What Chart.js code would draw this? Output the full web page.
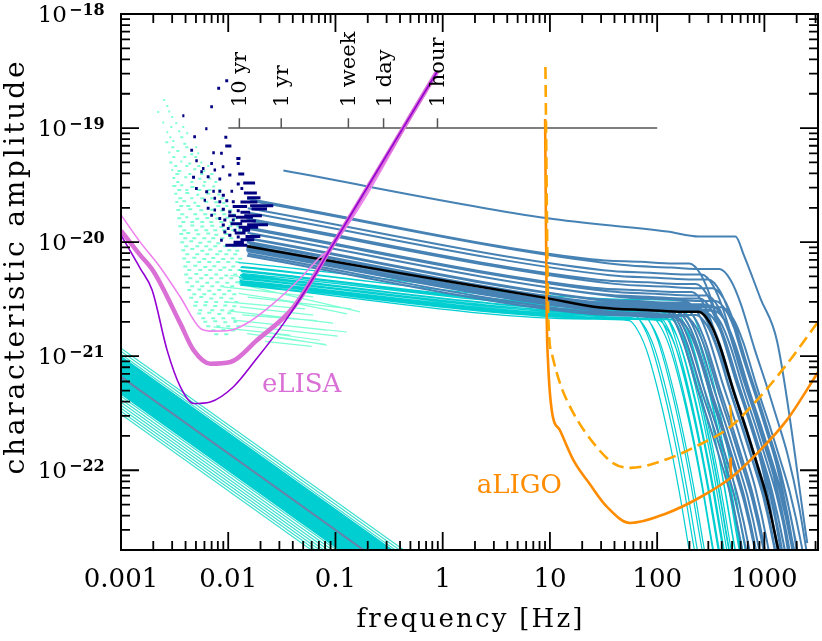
<!DOCTYPE html>
<html>
<head>
<meta charset="utf-8">
<title>characteristic amplitude</title>
<script src="https://cdn.jsdelivr.net/npm/chart.js@4.4.1/dist/chart.umd.min.js"></script>
<style>
  html, body { margin: 0; padding: 0; background: #fff; }
  canvas { display: block; }
</style>
</head>
<body>
<canvas id="chart" width="822" height="641"></canvas>
<script>
// ---- axes ----
const xMin = 0.001, xMax = 3162;
const yMin = 2e-23, yMax = 1e-18;
const xTickValues = [0.001, 0.01, 0.1, 1, 10, 100, 1000];
const xTickLabels = ['0.001', '0.01', '0.1', '1', '10', '100', '1000'];
const yTickExponents = [-18, -19, -20, -21, -22];

// ---- time-to-merger scale ----
const timeLabels = ['10 yr', '1 yr', '1 week', '1 day', '1 hour'];
const timeTickF = [0.0127, 0.0312, 0.132, 0.281, 0.894];
const timeLineF = [0.01, 100];
const timeLineH = 1e-19;
const timeTickTopH = 1.22e-19;

// ---- eLISA sensitivity curves ----
const elisaDarkF = [0.001, 0.00151, 0.00195, 0.00269, 0.00357, 0.00475, 0.0068, 0.0112, 0.0179, 0.0328, 0.0625, 0.09, 0.883];
const elisaDarkH = [1.15e-20, 5.9e-21, 3.8e-21, 1.13e-21, 5.4e-22, 3.85e-22, 3.97e-22, 5.4e-22, 9.2e-22, 1.94e-21, 4.9e-21, 8.8e-21, 3.1e-19];
const elisaThickF = [0.001, 0.00151, 0.00202, 0.00357, 0.00475, 0.0068, 0.0105, 0.0185, 0.0407, 0.09, 0.883];
const elisaThickH = [1.26e-20, 7.7e-21, 5.5e-21, 1.94e-21, 1.13e-21, 8.6e-22, 8.9e-22, 1.38e-21, 2.7e-21, 8.8e-21, 3.1e-19];
const elisaLightF = [0.001, 0.00151, 0.00224, 0.00357, 0.00549, 0.0068, 0.0105, 0.0161, 0.0264, 0.0468, 0.0719, 0.09, 0.883];
const elisaLightH = [1.73e-20, 1.0e-20, 6.3e-21, 3.3e-21, 1.75e-21, 1.66e-21, 1.69e-21, 2.03e-21, 2.9e-21, 4.8e-21, 7.4e-21, 8.8e-21, 3.1e-19];

// ---- aLIGO sensitivity curves ----
const ligoSolidF = [9.02, 9.35, 9.6, 10.4, 12.4, 16.6, 23.7, 33.9, 56, 123, 252, 480, 850, 1618, 3184];
const ligoSolidH = [1.2e-19, 2.07e-21, 9.0e-22, 3.36e-22, 2.24e-22, 1.22e-22, 7.5e-23, 4.8e-23, 3.45e-23, 4.2e-23, 5.8e-23, 8.5e-23, 1.4e-22, 2.75e-22, 7.3e-22];
const ligoDashF = [9.08, 9.68, 10.4, 12.4, 16.6, 25.5, 39.1, 56, 123, 252, 480, 850, 1618, 3162];
const ligoDashH = [3.43e-19, 2.07e-21, 1.06e-21, 5.8e-22, 3.16e-22, 1.73e-22, 1.15e-22, 1.05e-22, 1.25e-22, 1.69e-22, 2.4e-22, 4.1e-22, 8.5e-22, 2.0e-21];
const ligoSpikeDashF = [479, 497];
const ligoSpikeDashH = [3.72e-22, 2.5e-22];
const ligoSpikeSolidF = [479, 488];
const ligoSpikeSolidH = [1.27e-22, 8.6e-23];

// ---- highlighted (black) track ----
const blackF = [0.015, 0.40, 9.4, 29.4, 86, 175, 243, 312, 386, 514, 685, 849, 1052, 1349];
const blackH = [9.2e-21, 5.35e-21, 3.23e-21, 2.67e-21, 2.53e-21, 2.45e-21, 2.45e-21, 1.94e-21, 1.21e-21, 5.0e-22, 2.2e-22, 1.15e-22, 5.8e-23, 2.0e-23];

// ---- loudest steel-blue track ----
const topTrackF = [0.0327, 9.5, 124, 246, 537, 643, 920, 1318, 2512];
const topTrackH = [4.24e-20, 1.62e-20, 1.24e-20, 1.12e-20, 1.12e-20, 7.7e-21, 3.2e-21, 1.33e-21, 2.3e-23];

// ---- steel-blue tracks: start and knee ----
const steelStartF = [0.0150, 0.0160, 0.0152, 0.0155, 0.0148, 0.0158, 0.0147, 0.0154, 0.0151, 0.0159, 0.0146, 0.0153, 0.0157, 0.0149,
                     0.0161, 0.0150, 0.0146, 0.0155, 0.0148, 0.0158, 0.0147, 0.0154, 0.0149, 0.0150, 0.0152, 0.0149, 0.0152, 0.0150];
const steelStartH = [2.40e-20, 2.30e-20, 1.98e-20, 1.81e-20, 1.61e-20, 1.54e-20, 1.35e-20, 1.30e-20, 1.21e-20, 1.19e-20, 1.08e-20, 1.08e-20, 1.08e-20, 1.01e-20,
                     1.07e-20, 9.9e-21, 9.4e-21, 9.8e-21, 9.0e-21, 9.7e-21, 8.6e-21, 9.3e-21, 8.5e-21, 8.7e-21, 8.9e-21, 8.3e-21, 7.9e-21, 7.6e-21];
const steelKneeF = [200, 380, 260, 300, 230, 330, 210, 290, 250, 350, 190, 270, 320, 220,
                    400, 240, 180, 300, 160, 340, 150, 280, 130, 120, 110, 230, 180, 150];
const steelKneeH = [6.5e-21, 5.8e-21, 5.2e-21, 4.7e-21, 4.3e-21, 3.95e-21, 3.65e-21, 3.4e-21, 3.2e-21, 3.05e-21, 2.95e-21, 2.85e-21, 2.78e-21, 2.72e-21,
                    2.68e-21, 2.64e-21, 2.6e-21, 2.56e-21, 2.53e-21, 2.5e-21, 2.47e-21, 2.44e-21, 2.5e-21, 2.6e-21, 2.7e-21, 2.3e-21, 2.25e-21, 2.2e-21];
// shape around the knee (ratio to knee)
const steelShapeF = [0.121, 0.354, 0.72, 1, 1.284, 1.588, 2.115, 2.819, 3.494, 4.329, 5.551, 7.0];
const steelShapeH = [1.09, 1.033, 1.0, 1, 0.792, 0.494, 0.204, 0.0898, 0.0469, 0.0237, 0.0082, 0.0022];

// ---- turquoise tracks ----
const cyanStartF = [0.0125, 0.0130, 0.0132, 0.0135, 0.0131, 0.0134, 0.0130, 0.0133, 0.0131, 0.0128, 0.0130,
                    0.0127, 0.0132, 0.0129, 0.0126, 0.0133, 0.0131, 0.0127, 0.0130, 0.0129, 0.0126, 0.0127];
const cyanStartH = [6.6e-21, 6.0e-21, 5.6e-21, 5.3e-21, 5.0e-21, 4.8e-21, 4.6e-21, 4.4e-21, 4.25e-21, 4.6e-21, 5.2e-21,
                    4.4e-21, 4.9e-21, 4.2e-21, 5.7e-21, 6.1e-21, 5.5e-21, 4.75e-21, 4.35e-21, 5.1e-21, 4.9e-21, 4.5e-21];
const cyanKneeF = [170, 160, 140, 155, 125, 145, 115, 135, 105, 75, 70, 65, 60, 55, 88, 98, 118, 128, 165, 110, 100, 90];
const cyanKneeH = [3.05e-21, 2.8e-21, 2.65e-21, 2.5e-21, 2.4e-21, 2.3e-21, 2.2e-21, 2.1e-21, 2.05e-21, 2.25e-21, 2.5e-21,
                   2.15e-21, 2.35e-21, 2.05e-21, 2.7e-21, 2.9e-21, 2.6e-21, 2.25e-21, 2.05e-21, 2.45e-21, 2.35e-21, 2.2e-21];
const cyanShapeF = [0.4, 1, 1.2, 1.45, 1.8, 2.3, 2.9, 3.6, 4.5];
const cyanShapeH = [1.03, 1, 0.82, 0.55, 0.27, 0.1, 0.033, 0.01, 0.003];

// ---- short aquamarine tracks [f1, h1, f2, h2] ----
const aquaLines = [
  [0.0105, 5.1e-21, 0.11, 4.06e-21], [0.0090, 4.06e-21, 0.062, 3.31e-21], [0.0125, 3.55e-21, 0.041, 3.0e-21],
  [0.0129, 2.71e-21, 0.062, 2.29e-21], [0.0160, 2.0e-21, 0.083, 1.69e-21], [0.0199, 1.63e-21, 0.072, 1.38e-21],
  [0.0285, 1.48e-21, 0.083, 1.25e-21], [0.0112, 2.07e-21, 0.128, 1.63e-21], [0.0150, 1.58e-21, 0.080, 1.27e-21],
  [0.0073, 1.81e-21, 0.038, 1.53e-21], [0.0125, 4.3e-21, 0.17, 2.45e-21], [0.0152, 3.3e-21, 0.14, 2.6e-21],
  [0.0305, 3.1e-21, 0.128, 2.35e-21], [0.0135, 2.3e-21, 0.067, 2.05e-21], [0.0100, 2.5e-21, 0.095, 1.95e-21],
  [0.0140, 1.85e-21, 0.105, 1.5e-21], [0.0095, 3.0e-21, 0.052, 2.6e-21], [0.0220, 1.35e-21, 0.060, 1.22e-21]
];

// ---- aquamarine specks [f1, f2, h] ----
const aquaDashes = [
  [0.00248, 0.00259, 1.76e-19], [0.00218, 0.00227, 1.38e-19], [0.00276, 0.00288, 1.4e-19],
  [0.00243, 0.00253, 1.12e-19], [0.00321, 0.00335, 1.1e-19],
  [0.00265, 0.00276, 9.2e-20], [0.00342, 0.00357, 9.4e-20], [0.00406, 0.00424, 9.0e-20],
  [0.00259, 0.00276, 7.5e-20], [0.00301, 0.00314, 7.7e-20], [0.00381, 0.00406, 7.3e-20],
  [0.00276, 0.00288, 6.1e-20], [0.00328, 0.00350, 6.3e-20], [0.00443, 0.00472, 5.9e-20], [0.00515, 0.00537, 6.0e-20],
  [0.00282, 0.00301, 5.0e-20], [0.00357, 0.00373, 5.1e-20], [0.00424, 0.00452, 4.9e-20], [0.00549, 0.00573, 5.0e-20],
  [0.00294, 0.00307, 4.3e-20], [0.00335, 0.00365, 4.2e-20], [0.00472, 0.00504, 4.35e-20], [0.00585, 0.00611, 4.2e-20],
  [0.00301, 0.00321, 3.65e-20], [0.00389, 0.00415, 3.7e-20], [0.00526, 0.00561, 3.6e-20], [0.00652, 0.00695, 3.62e-20],
  [0.00301, 0.00328, 3.1e-20], [0.00357, 0.00381, 3.15e-20], [0.00443, 0.00483, 3.05e-20], [0.00573, 0.00611, 3.12e-20], [0.0071, 0.00757, 3.08e-20],
  [0.00314, 0.00335, 2.65e-20], [0.00398, 0.00433, 2.7e-20], [0.00504, 0.00537, 2.6e-20], [0.00624, 0.0068, 2.66e-20], [0.0079, 0.00843, 2.62e-20],
  [0.00321, 0.00342, 2.25e-20], [0.00373, 0.00406, 2.28e-20], [0.00472, 0.00504, 2.22e-20], [0.00598, 0.00652, 2.26e-20], [0.00741, 0.00808, 2.24e-20], [0.0088, 0.00939, 2.2e-20],
  [0.00328, 0.00357, 1.91e-20], [0.00424, 0.00462, 1.94e-20], [0.00537, 0.00585, 1.9e-20], [0.0068, 0.00741, 1.92e-20], [0.00843, 0.00919, 1.88e-20], [0.01001, 0.01091, 1.9e-20],
  [0.00335, 0.00365, 1.62e-20], [0.00398, 0.00424, 1.65e-20], [0.00493, 0.00537, 1.6e-20], [0.00611, 0.00666, 1.63e-20], [0.00757, 0.00825, 1.61e-20], [0.00939, 0.01023, 1.64e-20], [0.01115, 0.01214, 1.6e-20],
  [0.00342, 0.00373, 1.38e-20], [0.00443, 0.00483, 1.4e-20], [0.00549, 0.00598, 1.37e-20], [0.0068, 0.00741, 1.39e-20], [0.00825, 0.00899, 1.36e-20], [0.01001, 0.01091, 1.38e-20], [0.01189, 0.01268, 1.37e-20],
  [0.0035, 0.00381, 1.18e-20], [0.00406, 0.00443, 1.2e-20], [0.00504, 0.00549, 1.17e-20], [0.00624, 0.0068, 1.19e-20], [0.00741, 0.00808, 1.16e-20], [0.00919, 0.01001, 1.18e-20],
  [0.00357, 0.00389, 1.0e-20], [0.00433, 0.00472, 1.02e-20], [0.00526, 0.00573, 9.9e-21], [0.00638, 0.00695, 1.01e-20], [0.00774, 0.00843, 9.8e-21],
  [0.00365, 0.00398, 8.5e-21], [0.00443, 0.00483, 8.7e-21], [0.00549, 0.00598, 8.4e-21], [0.00652, 0.0071, 8.6e-21], [0.00808, 0.0088, 8.3e-21], [0.0098, 0.01068, 8.5e-21], [0.01163, 0.01268, 8.4e-21],
  [0.00373, 0.00406, 7.2e-21], [0.00462, 0.00504, 7.3e-21], [0.00573, 0.00624, 7.1e-21], [0.00695, 0.00757, 7.25e-21], [0.00861, 0.00939, 7.1e-21], [0.01045, 0.01139, 7.2e-21], [0.01241, 0.01352, 7.15e-21],
  [0.00381, 0.00415, 6.1e-21], [0.00472, 0.00515, 6.2e-21], [0.00585, 0.00638, 6.05e-21], [0.0071, 0.00774, 6.15e-21], [0.0088, 0.00959, 6.0e-21], [0.01068, 0.01163, 6.1e-21],
  [0.00389, 0.00424, 5.2e-21], [0.00483, 0.00526, 5.25e-21], [0.00598, 0.00652, 5.15e-21], [0.00741, 0.00808, 5.2e-21], [0.00919, 0.01001, 5.1e-21], [0.01115, 0.01214, 5.2e-21],
  [0.00398, 0.00433, 4.45e-21], [0.00493, 0.00537, 4.5e-21], [0.00611, 0.00666, 4.4e-21], [0.00757, 0.00825, 4.45e-21], [0.00939, 0.01023, 4.4e-21], [0.01163, 0.01268, 4.45e-21],
  [0.00415, 0.00452, 3.8e-21], [0.00515, 0.00561, 3.85e-21], [0.00638, 0.00695, 3.75e-21], [0.0079, 0.00861, 3.8e-21], [0.0098, 0.01068, 3.75e-21],
  [0.00433, 0.00472, 3.25e-21], [0.00537, 0.00585, 3.3e-21], [0.00666, 0.00725, 3.2e-21], [0.00825, 0.00899, 3.25e-21], [0.01023, 0.01115, 3.2e-21],
  [0.00472, 0.00515, 2.77e-21], [0.00585, 0.00638, 2.8e-21], [0.00725, 0.0079, 2.75e-21], [0.00899, 0.0098, 2.78e-21], [0.01091, 0.01189, 2.74e-21],
  [0.00515, 0.00561, 2.37e-21], [0.00638, 0.00695, 2.4e-21], [0.0079, 0.00861, 2.35e-21], [0.0098, 0.01068, 2.38e-21],
  [0.00585, 0.00638, 2.0e-21], [0.00725, 0.0079, 2.02e-21], [0.00899, 0.0098, 1.98e-21], [0.01115, 0.01214, 2.0e-21],
  [0.00695, 0.00757, 1.69e-21], [0.00861, 0.00939, 1.7e-21], [0.01068, 0.01163, 1.68e-21],
  // in-between rows
  [0.002645, 0.002761, 1.56e-19], [0.002944, 0.003073, 1.25e-19],
  [0.002882, 0.003008, 1.02e-19], [0.003728, 0.003892, 1.02e-19],
  [0.002821, 0.002944, 8.3e-20], [0.003571, 0.003809, 8.3e-20],
  [0.002944, 0.00314, 6.8e-20], [0.003976, 0.004241, 6.8e-20], [0.004929, 0.005146, 6.8e-20],
  [0.003008, 0.003208, 5.57e-20], [0.003809, 0.004063, 5.57e-20], [0.004825, 0.005146, 5.57e-20],
  [0.00314, 0.003349, 4.65e-20], [0.003976, 0.004241, 4.65e-20], [0.005146, 0.005488, 4.65e-20], [0.006377, 0.006657, 4.65e-20],
  [0.003208, 0.003495, 3.95e-20], [0.004241, 0.004524, 3.95e-20], [0.005488, 0.005853, 3.95e-20], [0.006801, 0.007254, 3.95e-20],
  [0.003278, 0.003495, 3.36e-20], [0.004428, 0.004722, 3.36e-20], [0.005853, 0.006242, 3.36e-20], [0.007411, 0.007904, 3.36e-20],
  [0.003349, 0.003649, 2.86e-20], [0.003976, 0.004241, 2.86e-20], [0.005146, 0.005607, 2.86e-20], [0.006377, 0.006949, 2.86e-20], [0.008075, 0.008612, 2.86e-20],
  [0.003421, 0.003728, 2.43e-20], [0.004428, 0.004722, 2.43e-20], [0.005488, 0.00598, 2.43e-20], [0.006801, 0.007411, 2.43e-20], [0.00843, 0.009186, 2.43e-20],
  [0.003495, 0.003809, 2.07e-20], [0.004063, 0.004428, 2.07e-20], [0.005037, 0.005488, 2.07e-20], [0.007736, 0.00843, 2.07e-20], [0.009385, 0.01001, 2.07e-20],
  [0.003571, 0.003892, 1.76e-20], [0.004722, 0.005146, 1.76e-20], [0.005853, 0.006377, 1.76e-20], [0.0071, 0.007736, 1.76e-20], [0.008799, 0.009589, 1.76e-20], [0.01091, 0.01163, 1.76e-20],
  [0.003649, 0.003976, 1.5e-20], [0.004428, 0.004825, 1.5e-20], [0.005488, 0.00598, 1.5e-20], [0.006657, 0.007254, 1.5e-20], [0.00825, 0.00899, 1.5e-20], [0.01023, 0.01115, 1.5e-20],
  [0.003728, 0.004063, 1.27e-20], [0.004825, 0.005257, 1.27e-20], [0.00598, 0.006516, 1.27e-20], [0.007254, 0.007904, 1.27e-20], [0.008799, 0.009589, 1.27e-20], [0.01068, 0.01163, 1.27e-20], [0.01241, 0.01323, 1.27e-20],
  [0.003809, 0.004151, 1.08e-20], [0.004622, 0.005037, 1.08e-20], [0.005728, 0.006242, 1.08e-20], [0.006949, 0.007572, 1.08e-20], [0.00843, 0.009186, 1.08e-20], [0.01023, 0.01115, 1.08e-20],
  [0.003892, 0.004241, 9.2e-21], [0.004929, 0.005371, 9.2e-21], [0.00598, 0.006516, 9.2e-21], [0.007254, 0.007904, 9.2e-21], [0.00899, 0.009797, 9.2e-21], [0.01091, 0.01189, 9.2e-21],
  [0.003976, 0.004333, 7.85e-21], [0.004929, 0.005371, 7.85e-21], [0.006109, 0.006657, 7.85e-21], [0.007572, 0.00825, 7.85e-21], [0.009186, 0.01001, 7.85e-21], [0.01115, 0.01214, 7.85e-21],
  [0.004063, 0.004428, 6.7e-21], [0.005146, 0.005607, 6.7e-21], [0.006377, 0.006949, 6.7e-21], [0.007736, 0.00843, 6.7e-21], [0.009589, 0.01045, 6.7e-21], [0.01163, 0.01268, 6.7e-21],
  [0.004151, 0.004524, 5.7e-21], [0.005257, 0.005728, 5.7e-21], [0.006516, 0.0071, 5.7e-21], [0.008075, 0.008799, 5.7e-21], [0.01001, 0.01091, 5.7e-21], [0.01214, 0.01323, 5.7e-21],
  [0.004241, 0.004622, 4.83e-21], [0.005371, 0.005853, 4.83e-21], [0.006657, 0.007254, 4.83e-21], [0.00825, 0.00899, 4.83e-21], [0.01023, 0.01115, 4.83e-21],
  [0.004428, 0.004825, 4.11e-21], [0.005488, 0.00598, 4.11e-21], [0.006801, 0.007411, 4.11e-21], [0.00843, 0.009186, 4.11e-21], [0.01045, 0.01139, 4.11e-21],
  [0.004622, 0.005037, 3.5e-21], [0.005728, 0.006242, 3.5e-21], [0.0071, 0.007736, 3.5e-21], [0.008799, 0.009589, 3.5e-21], [0.01091, 0.01189, 3.5e-21],
  [0.004825, 0.005257, 2.98e-21], [0.00598, 0.006516, 2.98e-21], [0.007411, 0.008075, 2.98e-21], [0.009186, 0.01001, 2.98e-21], [0.01139, 0.01241, 2.98e-21],
  [0.005257, 0.005728, 2.53e-21], [0.006801, 0.007411, 2.53e-21], [0.00843, 0.009186, 2.53e-21], [0.01045, 0.01139, 2.53e-21],
  [0.005607, 0.006109, 2.15e-21], [0.006949, 0.007572, 2.15e-21], [0.008612, 0.009385, 2.15e-21], [0.01068, 0.01163, 2.15e-21],
  [0.006242, 0.006801, 1.83e-21], [0.007736, 0.00843, 1.83e-21], [0.009589, 0.01045, 1.83e-21], [0.01189, 0.01295, 1.83e-21],
  [0.007411, 0.008075, 1.56e-21], [0.009186, 0.01001, 1.56e-21]
];

// ---- navy specks [f1, f2, h] ----
const navyDashes = [
  [0.00938, 0.00999, 2.6e-19], [0.0079, 0.0084, 2.23e-19], [0.0068, 0.0072, 1.54e-19], [0.00373, 0.0039, 1.28e-19],
  [0.0061, 0.0064, 9.86e-20], [0.00472, 0.0050, 8.4e-20], [0.0092, 0.0098, 8.3e-20], [0.00938, 0.0107, 6.95e-20],
  [0.0084, 0.0089, 6.0e-20], [0.00443, 0.0047, 6.4e-20], [0.0071, 0.0075, 6.07e-20], [0.0119, 0.0130, 5.4e-20],
  [0.00493, 0.0052, 5.16e-20], [0.0068, 0.0072, 4.9e-20], [0.0120, 0.0128, 4.9e-20], [0.0087, 0.0092, 4.58e-20],
  [0.0057, 0.0060, 4.43e-20], [0.0073, 0.0077, 4.28e-20], [0.0100, 0.0107, 3.87e-20], [0.0124, 0.0141, 3.95e-20],
  [0.00549, 0.0058, 4.14e-20], [0.0046, 0.0049, 3.7e-20], [0.0063, 0.0067, 3.74e-20], [0.0081, 0.0086, 3.57e-20],
  [0.0120, 0.0128, 3.23e-20], [0.0138, 0.0178, 3.3e-20], [0.0049, 0.0052, 2.96e-20], [0.0061, 0.0065, 2.76e-20],
  [0.0071, 0.0075, 2.8e-20], [0.0081, 0.0086, 2.8e-20], [0.0105, 0.0111, 2.8e-20], [0.0130, 0.0138, 2.96e-20],
  [0.0087, 0.0093, 2.58e-20], [0.0073, 0.0077, 2.42e-20], [0.0059, 0.0062, 2.33e-20], [0.0081, 0.0086, 2.26e-20],
  [0.0094, 0.0100, 2.3e-20], [0.0108, 0.0115, 2.26e-20], [0.0130, 0.0187, 2.25e-20], [0.0160, 0.0263, 2.08e-20],
  [0.0063, 0.0067, 1.98e-20], [0.0073, 0.0077, 1.91e-20], [0.0087, 0.0093, 1.94e-20], [0.0100, 0.0107, 1.84e-20],
  [0.0120, 0.0128, 1.88e-20], [0.0130, 0.0160, 1.83e-20], [0.0068, 0.0072, 1.72e-20], [0.0081, 0.0086, 1.61e-20],
  [0.0090, 0.0096, 1.56e-20], [0.0108, 0.0115, 1.56e-20], [0.0130, 0.0181, 1.53e-20], [0.0087, 0.0093, 1.41e-20],
  [0.0097, 0.0103, 1.32e-20], [0.0112, 0.0119, 1.27e-20], [0.0135, 0.0160, 1.27e-20], [0.0090, 0.0096, 1.23e-20],
  [0.0100, 0.0107, 1.15e-20], [0.0120, 0.0128, 1.11e-20], [0.0094, 0.0150, 9.4e-21], [0.0084, 0.0089, 1.04e-20],
  [0.0141, 0.0206, 1.7e-20], [0.0150, 0.0235, 1.42e-20], [0.0145, 0.0199, 1.12e-20],
  [0.0110, 0.0150, 2.05e-20], [0.0118, 0.0170, 1.65e-20], [0.0105, 0.0135, 1.45e-20], [0.0125, 0.0190, 1.35e-20],
  [0.0115, 0.0145, 1.2e-20], [0.0130, 0.0175, 1.05e-20], [0.0112, 0.0140, 1.0e-20], [0.0150, 0.0200, 2.45e-20],
  [0.0165, 0.0230, 1.95e-20], [0.0140, 0.0185, 2.7e-20], [0.0100, 0.0118, 1.7e-20]
];

// ---- background band (lower left) ----
const bandStartF = 0.001;
const bandEndH = 2e-23;
const bandOuterStartH = [1.175e-21, 1.106e-21, 1.042e-21, 4.46e-22, 4.20e-22, 3.95e-22, 3.72e-22, 3.50e-22, 3.29e-22, 3.10e-22];
const bandOuterEndF = [0.4335, 0.396, 0.362, 0.1024, 0.0936, 0.0855, 0.0781, 0.0714, 0.0653, 0.0596];
const bandInnerStartH = [9.80e-22, 9.23e-22, 8.69e-22, 8.17e-22, 7.69e-22, 7.24e-22, 6.81e-22, 6.41e-22, 6.03e-22, 5.68e-22, 5.35e-22, 5.03e-22, 4.74e-22];
const bandInnerEndF = [0.331, 0.302, 0.276, 0.252, 0.231, 0.211, 0.193, 0.176, 0.161, 0.147, 0.134, 0.1227, 0.1121];
const bandCenterF = [0.001, 0.183];
const bandCenterH = [6.6e-22, 2e-23];

// ---- helpers ----
function pts(fs, hs) {
  return fs.map((f, i) => ({ x: f, y: hs[i] }));
}
function track(f0, h0, kf, kh, shapeF, shapeH) {
  const out = [{ x: f0, y: h0 }];
  shapeF.forEach((r, i) => out.push({ x: kf * r, y: kh * shapeH[i] }));
  return out;
}
function joined(lines) {
  const out = [];
  lines.forEach((l, i) => {
    if (i) out.push({ x: l[0].x, y: null });
    out.push(...l);
  });
  return out;
}
function lineDs(data, color, width, order, extra) {
  return Object.assign({
    data, borderColor: color, borderWidth: width, order,
    pointRadius: 0, fill: false, clip: 0, spanGaps: false,
    borderJoinStyle: 'round', borderCapStyle: 'butt'
  }, extra || {});
}
const smooth = { cubicInterpolationMode: 'monotone' };

const steelLines = steelKneeF.map((kf, i) => track(steelStartF[i], steelStartH[i], kf, steelKneeH[i], steelShapeF, steelShapeH));
const cyanLines = cyanKneeF.map((kf, i) => track(cyanStartF[i], cyanStartH[i], kf, cyanKneeH[i], cyanShapeF, cyanShapeH));
const aquaLineSegs = aquaLines.map(a => [{ x: a[0], y: a[1] }, { x: a[2], y: a[3] }]);
const aquaDashSegs = aquaDashes.map(d => [{ x: d[0], y: d[2] }, { x: d[1], y: d[2] }]);
const navySegs = navyDashes.map(d => [{ x: d[0], y: d[2] }, { x: d[1], y: d[2] }]);
const bandOuterSegs = bandOuterStartH.map((h, i) => [{ x: bandStartF, y: h }, { x: bandOuterEndF[i], y: bandEndH }]);
const bandInnerSegs = bandInnerStartH.map((h, i) => [{ x: bandStartF, y: h }, { x: bandInnerEndF[i], y: bandEndH }]);
const timeTickSegs = timeTickF.map(f => [{ x: f, y: timeLineH }, { x: f, y: timeTickTopH }]);

const datasets = [
  lineDs(joined(bandOuterSegs), '#40E0D0', 1.2, 100),
  lineDs(joined(bandInnerSegs), '#00CED1', 2.6, 99),
  lineDs(pts(bandCenterF, bandCenterH), '#6C7FA8', 2, 98),
  lineDs(joined(aquaDashSegs), '#7FFFD4', 2, 91),
  lineDs(joined(aquaLineSegs), '#7FFFD4', 1.2, 90),
  lineDs(joined(cyanLines), '#00CED1', 1.2, 80, smooth),
  lineDs(joined(steelLines), '#4682B4', 2.0, 70, smooth),
  lineDs(pts(topTrackF, topTrackH), '#4682B4', 2.0, 69, smooth),
  lineDs(joined(navySegs), '#000080', 3, 65),
  lineDs(pts(blackF, blackH), '#000000', 2.5, 60, smooth),
  lineDs(pts(timeLineF, [timeLineH, timeLineH]), '#555555', 1.5, 50),
  lineDs(joined(timeTickSegs), '#555555', 1.5, 50),
  lineDs(pts(elisaLightF, elisaLightH), '#EE82EE', 1.6, 42, smooth),
  lineDs(pts(elisaThickF, elisaThickH), '#DA70D6', 4.5, 41, smooth),
  lineDs(pts(elisaDarkF, elisaDarkH), '#9400D3', 1.6, 40, smooth),
  lineDs(pts(ligoSolidF, ligoSolidH), '#FF8C00', 2.6, 31, smooth),
  lineDs(pts(ligoSpikeSolidF, ligoSpikeSolidH), '#FF8C00', 2.2, 31),
  lineDs(pts(ligoDashF, ligoDashH), '#FFA500', 2.6, 30, Object.assign({ borderDash: [12, 6] }, smooth)),
  lineDs(pts(ligoSpikeDashF, ligoSpikeDashH), '#FFA500', 2.2, 30)
];

const SERIF = '"DejaVu Serif", "Liberation Serif", serif';

function drawSpaced(ctx, text, cx, baseY, width) {
  const chars = [...text];
  const ws = chars.map(ch => ctx.measureText(ch).width);
  const total = ws.reduce((s, w) => s + w, 0);
  const gap = (width - total) / (chars.length - 1);
  let x = cx - width / 2;
  ctx.textAlign = 'left';
  chars.forEach((ch, i) => { ctx.fillText(ch, x, baseY); x += ws[i] + gap; });
}

const decor = {
  id: 'decor',
  afterDatasetsDraw(chart) {
    const { ctx, chartArea: a, scales } = chart;
    const xs = scales.x, ys = scales.y;
    ctx.save();

    // time-to-merger labels
    ctx.fillStyle = '#000';
    ctx.font = '21px ' + SERIF;
    ctx.textBaseline = 'alphabetic';
    timeLabels.forEach((t, i) => {
      const px = xs.getPixelForValue(timeTickF[i]);
      const py = ys.getPixelForValue(timeTickTopH);
      ctx.save();
      ctx.translate(px + 7, py - 11);
      ctx.rotate(-Math.PI / 2);
      ctx.textAlign = 'left';
      ctx.fillText(t, 0, 0);
      ctx.restore();
    });

    // detector names
    ctx.font = '26px ' + SERIF;
    ctx.textAlign = 'left';
    ctx.fillStyle = '#DA70D6';
    ctx.fillText('eLISA', xs.getPixelForValue(0.0206), ys.getPixelForValue(4.83e-22));
    ctx.fillStyle = '#FF8C00';
    ctx.fillText('aLIGO', xs.getPixelForValue(2.08), ys.getPixelForValue(6.3e-23));

    // frame
    ctx.strokeStyle = '#000';
    ctx.lineWidth = 2;
    ctx.strokeRect(a.left, a.top, a.right - a.left, a.bottom - a.top);

    // inward ticks on all four sides
    ctx.lineWidth = 1.8;
    ctx.beginPath();
    for (let d = -3; d <= 3; d++) {
      for (let m = 1; m <= 9; m++) {
        const v = m * Math.pow(10, d);
        if (v < xMin * 0.999 || v > xMax) continue;
        const px = xs.getPixelForValue(v);
        const len = m === 1 ? 18 : 9;
        ctx.moveTo(px, a.bottom); ctx.lineTo(px, a.bottom - len);
        ctx.moveTo(px, a.top); ctx.lineTo(px, a.top + len);
      }
    }
    for (let d = -23; d <= -18; d++) {
      for (let m = 1; m <= 9; m++) {
        const v = m * Math.pow(10, d);
        if (v < yMin * 1.001 || v > yMax * 1.001) continue;
        const py = ys.getPixelForValue(v);
        const len = m === 1 ? 18 : 9;
        ctx.moveTo(a.left, py); ctx.lineTo(a.left + len, py);
        ctx.moveTo(a.right, py); ctx.lineTo(a.right - len, py);
      }
    }
    ctx.stroke();

    // x tick labels
    ctx.fillStyle = '#000';
    ctx.font = '26px ' + SERIF;
    ctx.textAlign = 'center';
    ctx.textBaseline = 'alphabetic';
    xTickValues.forEach((v, i) => {
      ctx.fillText(xTickLabels[i], xs.getPixelForValue(v), a.bottom + 37);
    });

    // y tick labels: 10 with superscript exponent
    yTickExponents.forEach(e => {
      const py = ys.getPixelForValue(Math.pow(10, e));
      ctx.font = '23px ' + SERIF;
      ctx.textAlign = 'right';
      ctx.textBaseline = 'middle';
      ctx.fillText('10', 67, py + 2);
      ctx.font = 'bold 16px ' + SERIF;
      ctx.textAlign = 'left';
      ctx.textBaseline = 'alphabetic';
      ctx.fillText('\u2212' + String(-e), 69, py + 1);
    });

    // axis titles
    ctx.textBaseline = 'alphabetic';
    ctx.font = '26px ' + SERIF;
    drawSpaced(ctx, 'frequency [Hz]', (a.left + a.right) / 2, 627, 226);
    ctx.save();
    ctx.translate(24, 268);
    ctx.rotate(-Math.PI / 2);
    ctx.font = '28px ' + SERIF;
    drawSpaced(ctx, 'characteristic amplitude', 0, 0, 413);
    ctx.restore();

    ctx.restore();
  }
};

new Chart(document.getElementById('chart'), {
  type: 'line',
  data: { datasets },
  options: {
    animation: false,
    responsive: false,
    devicePixelRatio: 1,
    events: [],
    layout: { padding: { left: 0, right: 4, top: 14, bottom: 0 } },
    plugins: { legend: { display: false }, tooltip: { enabled: false } },
    scales: {
      x: {
        type: 'logarithmic', min: xMin, max: xMax,
        ticks: { display: false }, grid: { display: false }, border: { display: false },
        afterFit(s) { s.height = 91; }
      },
      y: {
        type: 'logarithmic', min: yMin, max: yMax,
        ticks: { display: false }, grid: { display: false }, border: { display: false },
        afterFit(s) { s.width = 121; }
      }
    }
  },
  plugins: [decor]
});
</script>
</body>
</html>
